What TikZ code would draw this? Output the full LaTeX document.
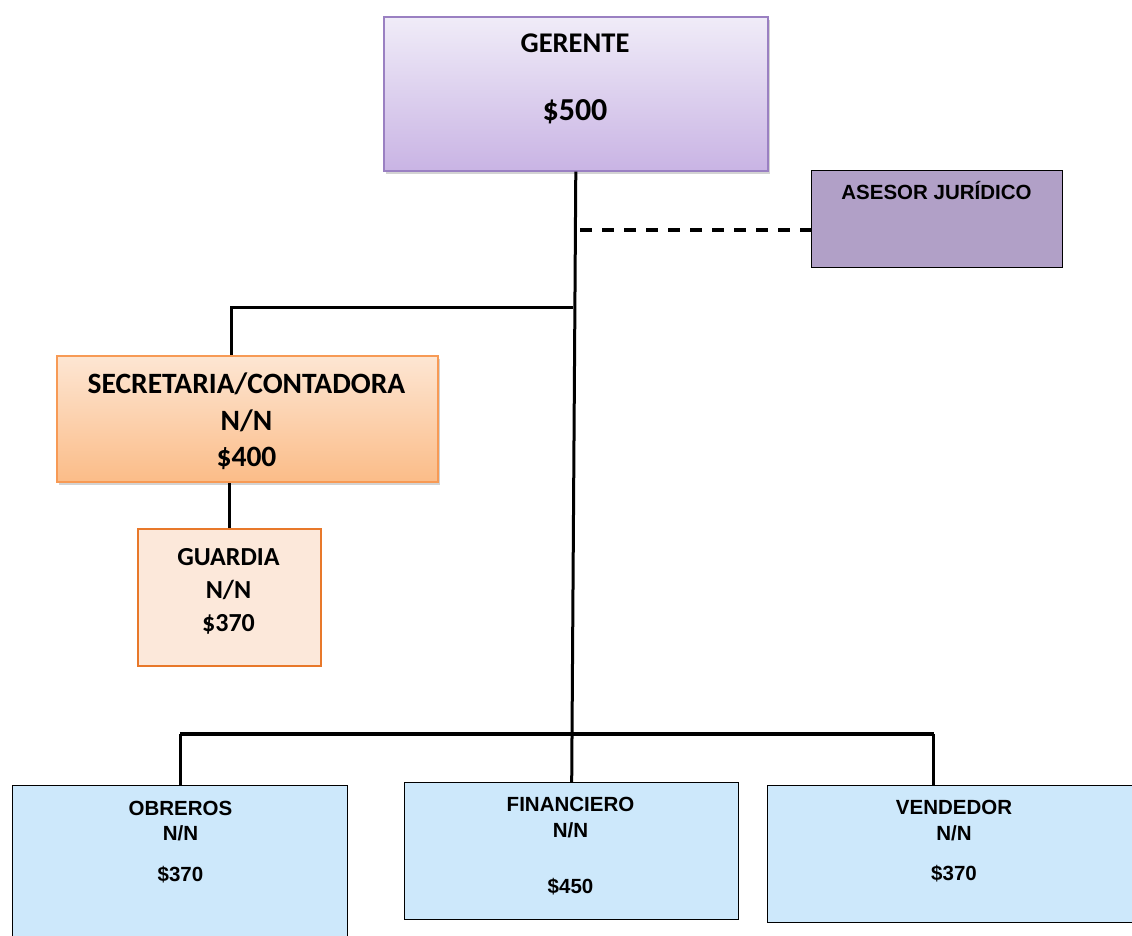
\documentclass[tikz,border=0pt]{standalone}
\usepackage{fontspec}
\setmainfont{Liberation Sans}
\newfontfamily\carlito{Carlito}
\usetikzlibrary{positioning, shadows}
\definecolor{gerTop}{HTML}{F0ECF8}
\definecolor{gerBot}{HTML}{C9B4E4}
\definecolor{gerLine}{HTML}{9A80C2}
\definecolor{aseFill}{HTML}{B1A0C7}
\definecolor{secTop}{HTML}{FDE6D3}
\definecolor{secBot}{HTML}{FBBC88}
\definecolor{secLine}{HTML}{F79A55}
\definecolor{guaFill}{HTML}{FCE8DA}
\definecolor{guaLine}{HTML}{E8782A}
\definecolor{opFill}{HTML}{CDE8FB}

\begin{document}
\begin{tikzpicture}[
  x=1pt, y=-1pt,
  box/.style  = {rectangle, anchor=north west, inner sep=0pt},
  ger/.style  = {box, draw=gerLine, line width=1.6pt, top color=gerTop, bottom color=gerBot,
                 drop shadow={shadow xshift=2pt, shadow yshift=-3pt, opacity=0.35}},
  ase/.style  = {box, draw=black, line width=1.4pt, fill=aseFill},
  sec/.style  = {box, draw=secLine, line width=1.6pt, top color=secTop, bottom color=secBot,
                 drop shadow={shadow xshift=2pt, shadow yshift=-3pt, opacity=0.35}},
  gua/.style  = {box, draw=guaLine, line width=1.6pt, fill=guaFill},
  op/.style   = {box, draw=black, line width=1.4pt, fill=opFill},
  ttl/.style  = {anchor=base, inner sep=0pt},
  cal/.style  = {ttl, font=\carlito\bfseries\fontsize{29.5}{34}\selectfont},
  ar/.style   = {ttl, font=\bfseries\fontsize{20.5}{24}\selectfont},
  link/.style = {line width=3pt, black},
  dsh/.style  = {line width=3.2pt, black, dash pattern=on 12pt off 10pt}
]
\clip (0,0) rectangle (1132,936);

\node[ger, minimum width=384pt, minimum height=154pt] (g)   at (383,16)  {};
\node[ase, minimum width=251pt, minimum height=97pt]  (a)   at (811,170) {};
\node[sec, minimum width=381pt, minimum height=126pt] (s)   at (56,355)  {};
\node[gua, minimum width=183pt, minimum height=137pt] (u)   at (137,528) {};
\node[op,  minimum width=335pt, minimum height=160pt] (o)   at (12,785)  {};
\node[op,  minimum width=334pt, minimum height=137pt] (f)   at (404,782) {};
\node[op,  minimum width=373pt, minimum height=137pt] (v)   at (767,785) {};

\node[cal, font=\carlito\bfseries\fontsize{28.5}{34}\selectfont] (g1) at (575,53)  {GERENTE};
\node[cal, font=\carlito\bfseries\fontsize{32}{36}\selectfont] (g2) at (575,121) {\$500};
\node[ar]  (a1) at (936.5,200) {ASESOR JURÍDICO};
\node[cal] (s1) at (246.5,393) {SECRETARIA/CONTADORA};
\node[cal] (s2) at (246.5,430) {N/N};
\node[cal] (s3) at (246.5,466) {\$400};
\node[cal, font=\carlito\bfseries\fontsize{26}{30}\selectfont] (u1) at (228.5,565) {GUARDIA};
\node[cal, font=\carlito\bfseries\fontsize{26}{30}\selectfont] (u2) at (228.5,598) {N/N};
\node[cal, font=\carlito\bfseries\fontsize{26}{30}\selectfont] (u3) at (228.5,631) {\$370};
\node[ar]  (o1) at (180.5,815) {OBREROS};
\node[ar]  (o2) at (180.5,840) {N/N};
\node[ar]  (o3) at (180.5,881) {\$370};
\node[ar]  (f1) at (570.5,811) {FINANCIERO};
\node[ar]  (f2) at (570.5,837) {N/N};
\node[ar]  (f3) at (570.5,893) {\$450};
\node[ar]  (v1) at (954,814) {VENDEDOR};
\node[ar]  (v2) at (954,840) {N/N};
\node[ar]  (v3) at (954,880) {\$370};

\coordinate (js) at (573,307);
\coordinate (ja) at (580,230);
\coordinate (jb) at (572,734);

\draw[link](g.south)--(f.north);
\draw[dsh](ja)--(ja -| a.west);
\draw[link](js)-|([xshift=-15.5pt]s.north);
\draw[link](u.north)--(u.north |- s.south);
\draw[link, line width=4pt](o.north |- jb)--([xshift=-20.5pt]v.north |- jb);
\draw[link](o.north |- jb)--(o.north);
\draw[link]([xshift=-20.5pt]v.north |- jb)--([xshift=-20.5pt]v.north);
\end{tikzpicture}
\end{document}
